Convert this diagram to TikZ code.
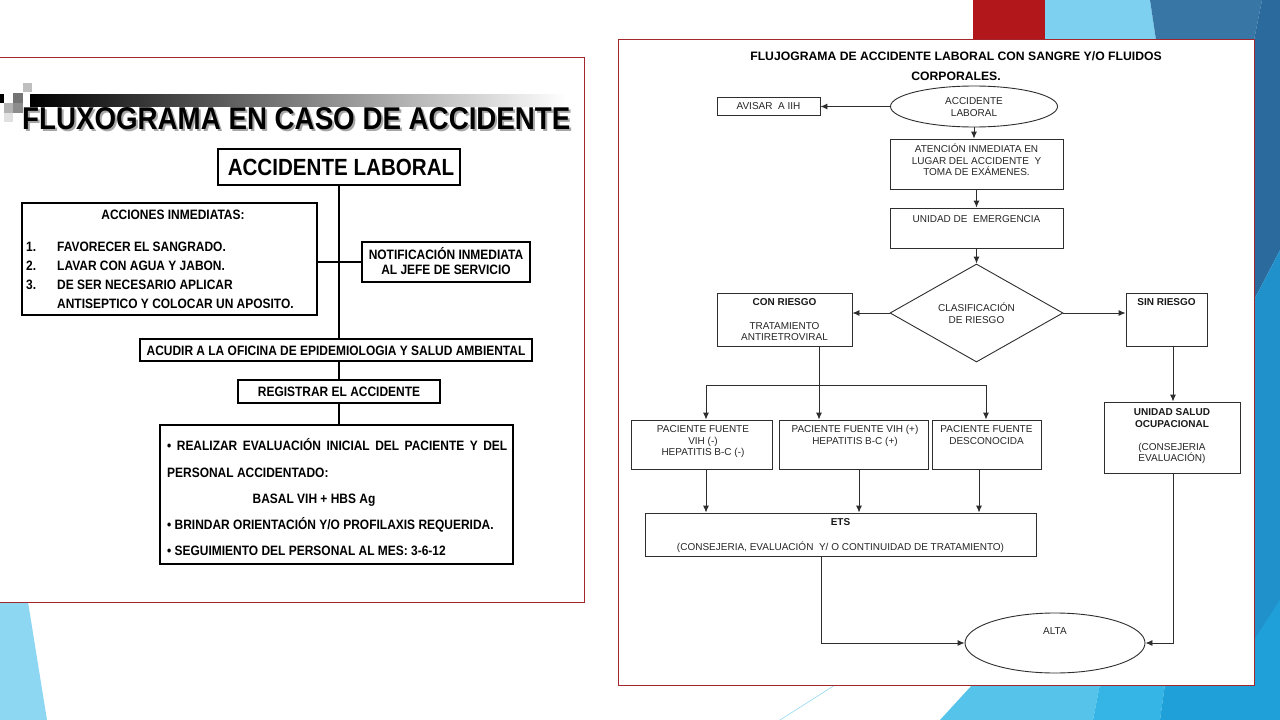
\documentclass[tikz,border=0pt]{standalone}
\usepackage{fontspec}
\setmainfont{Liberation Sans}
\newfontfamily\narrowf{Liberation Sans}[FakeStretch=0.88]
\usetikzlibrary{shapes.geometric,arrows.meta}
\definecolor{framered}{HTML}{A3282D}
\definecolor{slidered}{HTML}{B2181B}
\definecolor{lblue}{HTML}{7DD0F0}
\definecolor{dblueA}{HTML}{3876A6}
\definecolor{dblueB}{HTML}{2B6A9C}
\definecolor{mblue}{HTML}{2091CB}
\definecolor{cyanA}{HTML}{56C4EA}
\definecolor{cyanB}{HTML}{34B5E5}
\definecolor{cyanC}{HTML}{1FA0D8}
\definecolor{paleblue}{HTML}{8DD7F3}
\definecolor{rline}{HTML}{2E2E2E}
\newcommand\lpfont{\narrowf\bfseries\fontsize{13.6}{16}\selectfont}
\newcommand\rpfont{\fontsize{10}{12}\selectfont}
\begin{document}
\begin{tikzpicture}[x=1pt,y=-1pt,
  lbox/.style={draw=black,line width=1.4pt,fill=white,inner sep=0pt},
  lline/.style={draw=black,line width=1.4pt},
  ltxt/.style={font=\lpfont,inner sep=0pt,anchor=base},
  rbox/.style={draw=rline,line width=0.9pt,fill=white,inner sep=0pt},
  rell/.style={ellipse,draw=rline,line width=0.9pt,fill=white,inner sep=0pt},
  rline/.style={draw=rline,line width=0.9pt},
  rarr/.style={draw=rline,line width=0.9pt,-{Latex[length=7pt,width=6pt]}},
  rtxt/.style={font=\rpfont,text=black!85,inner sep=0pt,anchor=base,align=center},
  rbtxt/.style={font=\rpfont\bfseries,text=black!90,inner sep=0pt,anchor=base,align=center}]
\useasboundingbox (0,0) rectangle (1280,720);
\fill[white] (0,0) rectangle (1280,720);
% slide decorations
\fill[slidered] (973,0) rectangle (1045,40);
\fill[lblue] (1045,0) -- (1150,0) -- (1156,40) -- (1045,40) -- cycle;
\fill[dblueA] (1150,0) -- (1262,0) -- (1254,40) -- (1156,40) -- cycle;
\fill[dblueB] (1262,0) -- (1280,0) -- (1280,250) -- (1254,300) -- (1254,40) -- cycle;
\fill[mblue] (1254,300) -- (1280,250) -- (1280,720) -- (1254,720) -- cycle;
\fill[cyanC] (1254,640) -- (1280,600) -- (1280,720) -- (1254,720) -- cycle;
\fill[cyanA] (940,720) -- (973,684) -- (1100,684) -- (1093,720) -- cycle;
\fill[cyanB] (1093,720) -- (1100,684) -- (1165,684) -- (1160,720) -- cycle;
\fill[cyanC] (1160,720) -- (1165,684) -- (1280,684) -- (1280,720) -- cycle;
\draw[lblue!80,line width=0.6pt] (780,720) -- (835,685);
\fill[paleblue] (0,602) -- (28,602) -- (47,720) -- (0,720) -- cycle;
% ================= LEFT PANEL =================
\draw[framered,line width=1pt,fill=white] (-2,57) rectangle (584,602);
\shade[left color=black,right color=white] (30,94) rectangle (566,106);
\fill[black!25] (23,83) rectangle (32,92);
\fill[black] (0,94) rectangle (4,103);
\fill[black!55] (13,93) rectangle (23,103);
\fill[black!30] (4,103) rectangle (13,113);
\fill[black!45] (13,103) rectangle (23,113);
\fill[black!12] (4,113) rectangle (13,122);
\node[font=\narrowf\bfseries\fontsize{31.5}{32}\selectfont,text=black!35,inner sep=0pt,anchor=base west] (titleshadow) at (24,131) {FLUXOGRAMA EN CASO DE ACCIDENTE};
\node[font=\narrowf\bfseries\fontsize{31.5}{32}\selectfont,text=black,inner sep=0pt,anchor=base west] (title) at (22,129) {FLUXOGRAMA EN CASO DE ACCIDENTE};

\node[lbox,minimum width=242,minimum height=36] (acc) at (339,167) {};
\node[font=\narrowf\bfseries\fontsize{23.4}{24}\selectfont,inner sep=0pt] (acctxt) at (341,167) {ACCIDENTE LABORAL};
\node[lbox,minimum width=295,minimum height=112] (acciones) at (169.5,259) {};
\node[lbox,minimum width=168,minimum height=40] (notif) at (446,262) {};
\node[lbox,minimum width=392,minimum height=22] (acudir) at (336,350) {};
\node[lbox,minimum width=202,minimum height=23] (regis) at (339,391.5) {};
\node[lbox,minimum width=353,minimum height=139] (final) at (336.5,494.5) {};

\draw[lline] (acc.south) -- (acc.south |- acudir.north);
\draw[lline] (acciones.east |- notif.west) -- (notif.west);
\draw[lline] (regis.north |- acudir.south) -- (regis.north);
\draw[lline] (regis.south) -- (regis.south |- final.north);

\node[ltxt] (ai) at (173,219) {ACCIONES INMEDIATAS:};
\node[ltxt,anchor=base west] (n1) at (26,251) {1.};
\node[ltxt,anchor=base west] (n2) at (26,270) {2.};
\node[ltxt,anchor=base west] (n3) at (26,289) {3.};
\node[ltxt,anchor=base west] (t1) at (57,251) {FAVORECER EL SANGRADO.};
\node[ltxt,anchor=base west] (t2) at (57,270) {LAVAR CON AGUA Y JABON.};
\node[ltxt,anchor=base west] (t3) at (57,289) {DE SER NECESARIO APLICAR};
\node[ltxt,anchor=base west] (t4) at (57,308) {ANTISEPTICO Y COLOCAR UN APOSITO.};
\node[ltxt] (nt1) at (446,259) {NOTIFICACIÓN INMEDIATA};
\node[ltxt] (nt2) at (446,274) {AL JEFE DE SERVICIO};
\node[ltxt] (acudtxt) at (336,355) {ACUDIR A LA OFICINA DE EPIDEMIOLOGIA Y SALUD AMBIENTAL};
\node[ltxt] (regtxt) at (339,396) {REGISTRAR EL ACCIDENTE};
\node[ltxt,anchor=base west] (f1) at (167,450) {\makebox[340pt][s]{• REALIZAR EVALUACIÓN INICIAL DEL PACIENTE Y DEL}};
\node[ltxt,anchor=base west] (f2) at (167,477) {PERSONAL ACCIDENTADO:};
\node[ltxt] (f3) at (314,503) {BASAL VIH + HBS Ag};
\node[ltxt,anchor=base west] (f4) at (167,529) {• BRINDAR ORIENTACIÓN Y/O PROFILAXIS REQUERIDA.};
\node[ltxt,anchor=base west] (f5) at (167,555) {• SEGUIMIENTO DEL PERSONAL AL MES: 3-6-12};

% ================= RIGHT PANEL =================
\draw[framered,line width=1pt,fill=white] (618,39) rectangle (1254,685);
\node[font=\bfseries\fontsize{12.2}{14}\selectfont,inner sep=0pt,anchor=base] (rt1) at (956,60.4) {FLUJOGRAMA DE ACCIDENTE LABORAL CON SANGRE Y/O FLUIDOS};
\node[font=\bfseries\fontsize{12.2}{14}\selectfont,inner sep=0pt,anchor=base] (rt2) at (956,80.4) {CORPORALES.};

\node[rbox,minimum width=103,minimum height=18] (avisar) at (768.5,106) {};
\node[rtxt] (avtxt) at (768.5,109.6) {AVISAR\ \ A IIH};
\node[rell,minimum width=167,minimum height=41] (acc2) at (974,106.5) {};
\node[rtxt] (acc2a) at (974,104.6) {ACCIDENTE};
\node[rtxt] (acc2b) at (974,116.6) {LABORAL};
\node[rbox,minimum width=173,minimum height=50] (aten) at (976.5,164) {};
\node[rtxt] (at1) at (976.5,152.6) {ATENCIÓN INMEDIATA EN};
\node[rtxt] (at2) at (976.5,164.6) {LUGAR DEL ACCIDENTE\ \ Y};
\node[rtxt] (at3) at (976.5,175.6) {TOMA DE EXÁMENES.};
\node[rbox,minimum width=173,minimum height=40] (emerg) at (976.5,228) {};
\node[rtxt] (emtxt) at (976.5,222.6) {UNIDAD DE\ \ EMERGENCIA};
\node[diamond,draw=rline,line width=0.9pt,fill=white,inner sep=0pt,minimum width=173,minimum height=98] (dia) at (976.5,313) {};
\node[rtxt] (dia1) at (976.5,311.6) {CLASIFICACIÓN};
\node[rtxt] (dia2) at (976.5,323.6) {DE RIESGO};
\node[rbox,minimum width=135,minimum height=53] (conr) at (784.5,319.5) {};
\node[rbtxt] (conr1) at (784.5,305.6) {CON RIESGO};
\node[rtxt] (conr2) at (784.5,329.6) {TRATAMIENTO};
\node[rtxt] (conr3) at (784.5,340.6) {ANTIRETROVIRAL};
\node[rbox,minimum width=81,minimum height=53] (sinr) at (1166.5,319.5) {};
\node[rbtxt] (sinr1) at (1166.5,305.6) {SIN RIESGO};
\node[rbox,minimum width=141,minimum height=49] (p1) at (701.5,444.5) {};
\node[rtxt] (p1a) at (703,432.6) {PACIENTE FUENTE};
\node[rtxt] (p1b) at (703,444.6) {VIH (-)};
\node[rtxt] (p1c) at (703,455.6) {HEPATITIS B-C (-)};
\node[rbox,minimum width=149,minimum height=49] (p2) at (853.5,444.5) {};
\node[rtxt] (p2a) at (855,432.6) {PACIENTE FUENTE VIH (+)};
\node[rtxt] (p2b) at (855,444.6) {HEPATITIS B-C (+)};
\node[rbox,minimum width=109,minimum height=49] (p3) at (986.5,444.5) {};
\node[rtxt] (p3a) at (986.5,432.6) {PACIENTE FUENTE};
\node[rtxt] (p3b) at (986.5,444.6) {DESCONOCIDA};
\node[rbox,minimum width=136,minimum height=71] (uso) at (1172,437.5) {};
\node[rbtxt] (uso1) at (1172,415.6) {UNIDAD SALUD};
\node[rbtxt] (uso2) at (1172,427.6) {OCUPACIONAL};
\node[rtxt] (uso3) at (1172,450.6) {(CONSEJERIA};
\node[rtxt] (uso4) at (1172,461.6) {EVALUACIÓN)};
\node[rbox,minimum width=391,minimum height=43] (ets) at (840.5,534.5) {};
\node[rbtxt] (ets1) at (840.5,525.6) {ETS};
\node[rtxt] (ets2) at (840.5,550.6) {(CONSEJERIA, EVALUACIÓN\ \ Y/ O CONTINUIDAD DE TRATAMIENTO)};
\node[rell,minimum width=180,minimum height=60] (alta) at (1055,643) {};
\node[rtxt] (altatxt) at (1055,634.6) {ALTA};

\coordinate (hl) at (706,385);
\coordinate (hr) at (986,385);
\coordinate (vx) at (819,0);
\coordinate (c1) at (706,0);
\coordinate (c2) at (859,0);
\coordinate (c3) at (979,0);
\coordinate (cu) at (1173,0);
\coordinate (ce) at (821,0);

\draw[rarr] (acc2.west) -- (acc2.west -| avisar.east);
\draw[rarr] (acc2.south) -- (acc2.south |- aten.north);
\draw[rarr] (aten.south) -- (emerg.north);
\draw[rarr] (emerg.south) -- (dia.north);
\draw[rarr] (dia.west) -- (dia.west -| conr.east);
\draw[rarr] (dia.east) -- (dia.east -| sinr.west);
\draw[rarr] (vx |- conr.south) -- (vx |- p2.north);
\draw[rline] (hl) -- (hr);
\draw[rarr] (hl) -- (hl |- p1.north);
\draw[rarr] (hr) -- (hr |- p3.north);
\draw[rarr] (cu |- sinr.south) -- (cu |- uso.north);
\draw[rarr] (c1 |- p1.south) -- (c1 |- ets.north);
\draw[rarr] (c2 |- p2.south) -- (c2 |- ets.north);
\draw[rarr] (c3 |- p3.south) -- (c3 |- ets.north);
\draw[rarr] (ce |- ets.south) -- (ce |- alta.west) -- (alta.west);
\draw[rarr] (cu |- uso.south) -- (cu |- alta.east) -- (alta.east);
\end{tikzpicture}
\end{document}
